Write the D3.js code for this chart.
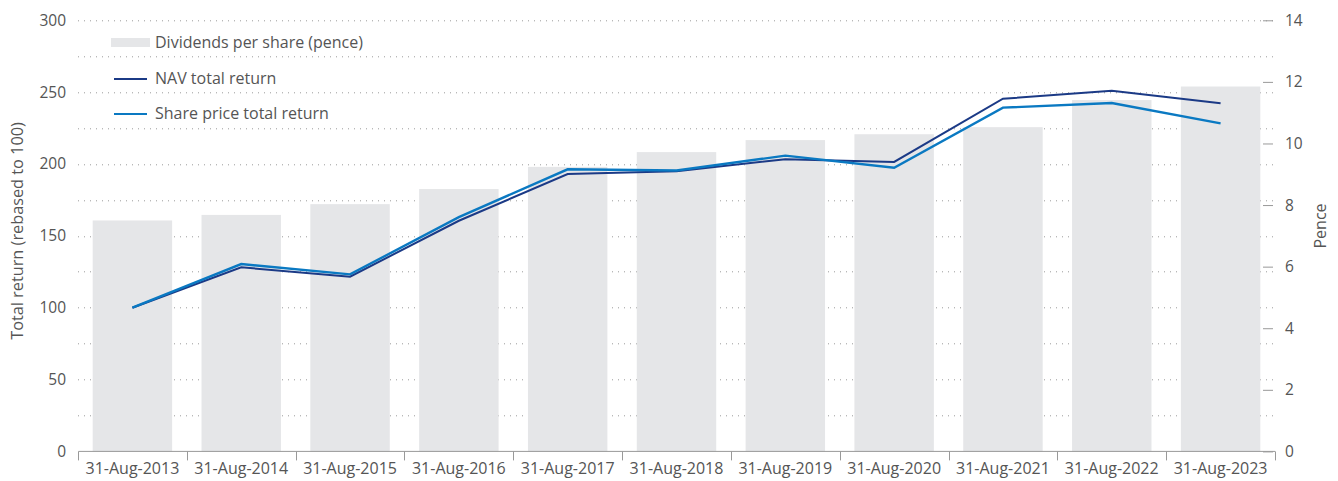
<!DOCTYPE html>
<html>
<head>
<meta charset="utf-8">
<script src="https://cdn.jsdelivr.net/npm/d3@7/dist/d3.min.js"></script>
<style>
  body { margin: 0; background: #fff; }
  text { font-family: "Open Sans", sans-serif; fill: #555; }
</style>
</head>
<body>
<div id="chart"></div>
<script>
// Data.
var years = ["31-Aug-2013", "31-Aug-2014", "31-Aug-2015", "31-Aug-2016", "31-Aug-2017",
             "31-Aug-2018", "31-Aug-2019", "31-Aug-2020", "31-Aug-2021", "31-Aug-2022", "31-Aug-2023"];
var dividends = [7.5, 7.68, 8.03, 8.52, 9.24, 9.72, 10.11, 10.3, 10.53, 11.41, 11.85];
var navReturn = [100, 128.1, 121.6, 160.5, 193, 195, 203.3, 201.4, 245.4, 251, 242.2];
var shareReturn = [100, 130.4, 123.2, 163, 196.3, 195.5, 205.8, 197.4, 239.2, 242.4, 228.3];
var leftTicks = [0, 50, 100, 150, 200, 250, 300];
var rightTicks = [0, 2, 4, 6, 8, 10, 12, 14];

var width = 1338, height = 481;
var margin = {top: 20.3, right: 63, bottom: 29.6, left: 78};
var innerW = width - margin.left - margin.right,
    innerH = height - margin.top - margin.bottom;

var svg = d3.select("#chart").append("svg")
    .attr("width", width)
    .attr("height", height);

var g = svg.append("g")
    .attr("transform", "translate(" + margin.left + "," + margin.top + ")");

var x = d3.scaleBand().domain(years).range([0, innerW]).paddingInner(0.27).paddingOuter(0.135);
var xBand = d3.scaleBand().domain(years).range([0, innerW]);
var yLeft = d3.scaleLinear().domain([0, 300]).range([innerH, 0]);
var yRight = d3.scaleLinear().domain([0, 14]).range([innerH, 0]);

// Dotted gridlines every 25.
g.append("g")
    .selectAll("line")
    .data(d3.range(25, 325, 25))
    .enter().append("line")
    .attr("x1", 0)
    .attr("x2", innerW - 2)
    .attr("y1", function(d) { return Math.round(yLeft(d)) + 0.5; })
    .attr("y2", function(d) { return Math.round(yLeft(d)) + 0.5; })
    .attr("stroke", "#9a9a9a")
    .attr("stroke-width", 1)
    .attr("stroke-dasharray", "1,5");

// Bars.
g.append("g")
    .selectAll("rect")
    .data(years)
    .enter().append("rect")
    .attr("x", function(d) { return x(d); })
    .attr("width", x.bandwidth())
    .attr("y", function(d, i) { return yRight(dividends[i]); })
    .attr("height", function(d, i) { return innerH - yRight(dividends[i]); })
    .attr("fill", "#e5e6e8");

// Lines.
var line = function(vals) {
  return d3.line()
    .x(function(d, i) { return xBand(years[i]) + xBand.bandwidth() / 2; })
    .y(function(d) { return yLeft(d); })(vals);
};

g.append("path")
    .attr("d", line(navReturn))
    .attr("fill", "none")
    .attr("stroke", "#1b3a86")
    .attr("stroke-width", 2);

g.append("path")
    .attr("d", line(shareReturn))
    .attr("fill", "none")
    .attr("stroke", "#0a79c2")
    .attr("stroke-width", 2.4);

// Left axis labels (no line).
var yAxisL = g.append("g")
    .call(d3.axisLeft(yLeft).tickValues(leftTicks).tickSize(0).tickPadding(12));
yAxisL.select(".domain").remove();
yAxisL.selectAll("text")
    .attr("font-size", 15.5)
    .attr("font-family", "Open Sans")
    .attr("fill", "#555");

// Right axis with short dashes.
var yAxisR = g.append("g")
    .attr("transform", "translate(" + (innerW - 12) + ",0)")
    .call(d3.axisRight(yRight).tickValues(rightTicks).tickSize(10).tickPadding(12));
yAxisR.select(".domain").remove();
yAxisR.selectAll("line").attr("stroke", "#999");
yAxisR.selectAll("text")
    .attr("font-size", 15.5)
    .attr("font-family", "Open Sans")
    .attr("fill", "#555");

// X axis.
var xAxis = g.append("g")
    .attr("transform", "translate(0," + innerH + ")")
    .call(d3.axisBottom(xBand).tickSize(0).tickPadding(11));
xAxis.select(".domain").attr("stroke", "#999").attr("d", "M0.5,0H" + innerW);
xAxis.selectAll("text")
    .attr("font-size", 16)
    .attr("font-family", "Open Sans")
    .attr("fill", "#555");

// Band boundary ticks.
xAxis.append("g")
    .selectAll("line")
    .data(years.concat(["end"]))
    .enter().append("line")
    .attr("x1", function(d, i) { return Math.round(i * xBand.bandwidth()) + 0.5; })
    .attr("x2", function(d, i) { return Math.round(i * xBand.bandwidth()) + 0.5; })
    .attr("y1", 0)
    .attr("y2", 9)
    .attr("stroke", "#999");

// Axis titles.
svg.append("text")
    .attr("transform", "translate(23," + 231 + ") rotate(-90)")
    .attr("text-anchor", "middle")
    .attr("font-size", 16.3)
    .text("Total return (rebased to 100)");

svg.append("text")
    .attr("transform", "translate(1326," + 226 + ") rotate(-90)")
    .attr("text-anchor", "middle")
    .attr("font-size", 16)
    .text("Pence");

// Legend.
var legend = svg.append("g").attr("transform", "translate(111,0)");
legend.append("rect")
    .attr("x", 0).attr("y", 38).attr("width", 39).attr("height", 9)
    .attr("fill", "#e5e6e8");
legend.append("text").attr("x", 44).attr("y", 48).attr("font-size", 16)
    .text("Dividends per share (pence)");
legend.append("line")
    .attr("x1", 3).attr("x2", 36).attr("y1", 79).attr("y2", 79)
    .attr("stroke", "#1b3a86").attr("stroke-width", 2);
legend.append("text").attr("x", 44).attr("y", 84).attr("font-size", 16)
    .text("NAV total return");
legend.append("line")
    .attr("x1", 3).attr("x2", 36).attr("y1", 114).attr("y2", 114)
    .attr("stroke", "#0a79c2").attr("stroke-width", 2);
legend.append("text").attr("x", 44).attr("y", 119).attr("font-size", 16)
    .text("Share price total return");
</script>
</body>
</html>
